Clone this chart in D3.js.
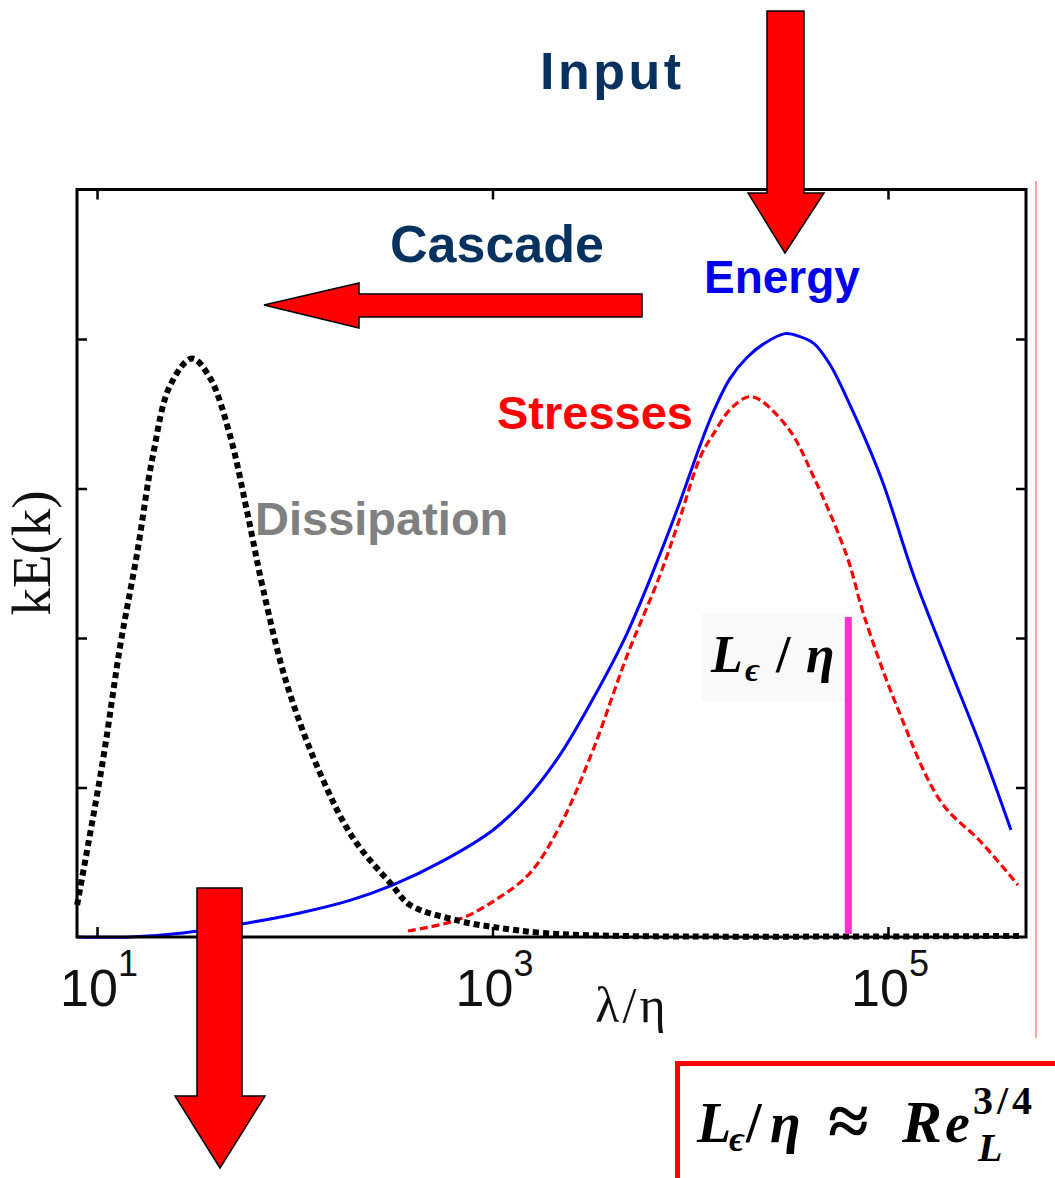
<!DOCTYPE html>
<html>
<head>
<meta charset="utf-8">
<script src="https://cdn.jsdelivr.net/npm/d3@7"></script>
<style>
  body { margin: 0; background: #fff; }
</style>
</head>
<body>
<div id="chart"></div>
<script>
// spectra (x = lambda/eta, y = kE(k) in tick units)
const energyX = [7.93, 14.7, 27.2, 54.1, 106, 190, 310, 562, 1007, 1494, 2193, 3222, 4786, 7031, 8880, 11200, 13030, 15880, 19360, 23610, 30140, 35890, 42270, 50900, 62090, 92260, 135500, 201000, 295100, 418800]
const energyY = [0, 0, 0.027, 0.087, 0.161, 0.245, 0.345, 0.509, 0.716, 0.93, 1.218, 1.593, 2.03, 2.56, 2.912, 3.286, 3.507, 3.735, 3.876, 3.969, 4.036, 4.016, 3.969, 3.829, 3.601, 3.072, 2.41, 1.827, 1.272, 0.716]

const stressX = [374, 685, 1092, 1549, 2193, 3222, 4786, 7031, 8880, 11200, 13030, 16440, 20510, 30830, 42270, 62090, 75690, 111200, 185400, 295100, 454000]
const stressY = [0.04, 0.12, 0.268, 0.428, 0.743, 1.25, 1.88, 2.42, 2.805, 3.206, 3.36, 3.548, 3.614, 3.414, 3.072, 2.544, 2.149, 1.539, 0.904, 0.636, 0.348]

const dissX = [7.93, 10.7, 13.1, 15.9, 19.2, 23.4, 30.2, 37.2, 47.1, 57.4, 69.1, 91.4, 134, 197, 310, 383, 685, 1007, 1800, 4416, 465600]
const dissY = [0.214, 1.178, 1.948, 2.557, 3.226, 3.688, 3.869, 3.742, 3.353, 2.845, 2.329, 1.687, 1.098, 0.663, 0.348, 0.214, 0.107, 0.067, 0.027, 0.007, 0.007]

const xTicks = [10, 1000, 100000]
const xTickExp = ['1', '3', '5']
const yTicks = [1, 2, 3, 4]
const lEpsilon = 63000   // L_eps / eta marker position
const lEpsilonTop = 2.14

const width = 1055, height = 1178
const plotLeft = 77, plotRight = 1026, plotTop = 189.5, plotBottom = 937

const svg = d3.select('#chart')
  .append('svg')
  .attr('width', width)
  .attr('height', height)
  .style('background', '#fff')

const x = d3.scaleLog()
  .domain([7.92, 498900])
  .range([plotLeft, plotRight])

const y = d3.scaleLinear()
  .domain([0, 5])
  .range([plotBottom, plotTop])

// ticks pointing inward, on all four sides
svg.append('g')
  .attr('transform', `translate(0,${plotBottom})`)
  .call(d3.axisBottom(x).tickValues(xTicks).tickSizeInner(-10).tickSizeOuter(0).tickFormat(''))
svg.append('g')
  .attr('transform', `translate(0,${plotTop})`)
  .call(d3.axisTop(x).tickValues(xTicks).tickSizeInner(-10).tickSizeOuter(0).tickFormat(''))
svg.append('g')
  .attr('transform', `translate(${plotLeft},0)`)
  .call(d3.axisLeft(y).tickValues(yTicks).tickSizeInner(-10).tickSizeOuter(0).tickFormat(''))
svg.append('g')
  .attr('transform', `translate(${plotRight},0)`)
  .call(d3.axisRight(y).tickValues(yTicks).tickSizeInner(-10).tickSizeOuter(0).tickFormat(''))
svg.selectAll('.domain').remove()
svg.selectAll('.tick line').attr('stroke', '#000').attr('stroke-width', 2.5)

// tick labels 10^n
xTicks.forEach((t, i) => {
  let lab = svg.append('text')
    .attr('x', x(t) + 2)
    .attr('y', 1006)
    .attr('text-anchor', 'middle')
    .style('font-family', 'Arial, "Liberation Sans", sans-serif')
    .style('font-size', '52px')
    .attr('fill', '#111')
  lab.append('tspan').text('10')
  lab.append('tspan').attr('dy', -30).style('font-size', '36px').text(xTickExp[i])
})

svg.append('text')
  .attr('x', 632)
  .attr('y', 1022)
  .attr('text-anchor', 'middle')
  .style('font-family', '"Liberation Serif", "Times New Roman", serif')
  .style('font-size', '50px')
  .style('letter-spacing', '3px')
  .attr('fill', '#111')
  .text('λ/η')

svg.append('text')
  .attr('transform', 'translate(50,553) rotate(-90)')
  .attr('text-anchor', 'middle')
  .style('font-family', '"Liberation Serif", "Times New Roman", serif')
  .style('font-size', '55px')
  .attr('fill', '#111')
  .text('kE(k)')

const line = (xs, ys) => d3.line()
  .x((d, i) => x(xs[i]))
  .y((d, i) => y(ys[i]))
  .curve(d3.curveCatmullRom.alpha(0.5))(ys)

// faint box behind the L label
svg.append('rect')
  .attr('x', 702).attr('y', 613)
  .attr('width', 146).attr('height', 89)
  .attr('fill', '#f9f9f9')

svg.append('path')
  .attr('d', line(energyX, energyY))
  .attr('fill', 'none')
  .attr('stroke', '#0000ff')
  .attr('stroke-width', 3)

svg.append('path')
  .attr('d', line(stressX, stressY))
  .attr('fill', 'none')
  .attr('stroke', '#ff0000')
  .attr('stroke-width', 3.2)
  .attr('stroke-dasharray', '8,4')

svg.append('path')
  .attr('d', line(dissX, dissY))
  .attr('fill', 'none')
  .attr('stroke', '#000')
  .attr('stroke-width', 6)
  .attr('stroke-dasharray', '6,4')

// L_eps/eta marker
svg.append('line')
  .attr('x1', x(lEpsilon)).attr('x2', x(lEpsilon))
  .attr('y1', y(lEpsilonTop)).attr('y2', y(0) - 3)
  .attr('stroke', '#ff33cc')
  .attr('stroke-width', 7)

// frame
svg.append('rect')
  .attr('x', plotLeft).attr('y', plotTop)
  .attr('width', plotRight - plotLeft).attr('height', plotBottom - plotTop)
  .attr('fill', 'none')
  .attr('stroke', '#000')
  .attr('stroke-width', 3)

// thin red line right of the plot
svg.append('line')
  .attr('x1', 1036).attr('x2', 1036)
  .attr('y1', 181).attr('y2', 1038)
  .attr('stroke', '#ff8a8a')
  .attr('stroke-width', 1.5)

const mathFont = '"Liberation Serif", "DejaVu Serif", serif'
let mathText = (tx, ty, str, size, italic, ls) => {
  svg.append('text')
    .attr('x', tx).attr('y', ty)
    .style('font-family', mathFont)
    .style('font-weight', 'bold')
    .style('font-style', italic ? 'italic' : 'normal')
    .style('font-size', size + 'px')
    .style('letter-spacing', (ls || 0) + 'px')
    .attr('fill', '#000')
    .text(str)
}

// label inside plot
mathText(711, 672, 'L', 52, true)
mathText(745, 681, 'ϵ', 34, true)
mathText(776, 672, '/', 52, false)
mathText(806, 672, 'η', 52, true)

// boxed formula
svg.append('rect')
  .attr('x', 677.5).attr('y', 1063.5)
  .attr('width', 500).attr('height', 300)
  .attr('fill', 'none')
  .attr('stroke', '#ff0000')
  .attr('stroke-width', 5)

mathText(697, 1142, 'L', 56, true)
mathText(729, 1151, 'ϵ', 36, true)
mathText(746, 1142, '/', 56, false)
mathText(770, 1142, 'η', 56, true)
mathText(828, 1146, '≈', 74, false)
mathText(902, 1142, 'R', 60, true)
mathText(945, 1142, 'e', 56, true)
mathText(978, 1161, 'L', 40, true)
mathText(973, 1114, '3/4', 40, false, 4)

// arrows
const arrows = [
  [[767, 11], [804, 11], [804, 193], [824, 193], [785, 253], [748, 193], [767, 193]],
  [[642, 294], [359, 294], [359, 283], [264, 305], [359, 328], [359, 317], [642, 317]],
  [[197, 888], [242, 888], [242, 1096], [265, 1096], [220, 1168], [175, 1096], [197, 1096]]
]
svg.selectAll('polygon.arrow')
  .data(arrows)
  .enter()
  .append('polygon')
  .attr('class', 'arrow')
  .attr('points', d => d.map(p => p.join(',')).join(' '))
  .attr('fill', '#ff0000')
  .attr('stroke', '#000')
  .attr('stroke-width', 1.5)

// word labels
const words = [
  { t: 'Input', x: 540, y: 89, c: '#07325f', s: 52, ls: 3.5 },
  { t: 'Cascade', x: 390, y: 262, c: '#07325f', s: 52, ls: 0 },
  { t: 'Energy', x: 704, y: 293, c: '#0000ee', s: 46, ls: 0 },
  { t: 'Stresses', x: 497, y: 429, c: '#ff0000', s: 47, ls: 0 },
  { t: 'Dissipation', x: 255, y: 535, c: '#808080', s: 47, ls: 0 }
]
svg.selectAll('text.word')
  .data(words)
  .enter()
  .append('text')
  .attr('class', 'word')
  .attr('x', d => d.x)
  .attr('y', d => d.y)
  .attr('fill', d => d.c)
  .style('font-family', 'Arial, "Liberation Sans", sans-serif')
  .style('font-weight', 'bold')
  .style('font-size', d => d.s + 'px')
  .style('letter-spacing', d => d.ls + 'px')
  .text(d => d.t)
</script>
</body>
</html>
